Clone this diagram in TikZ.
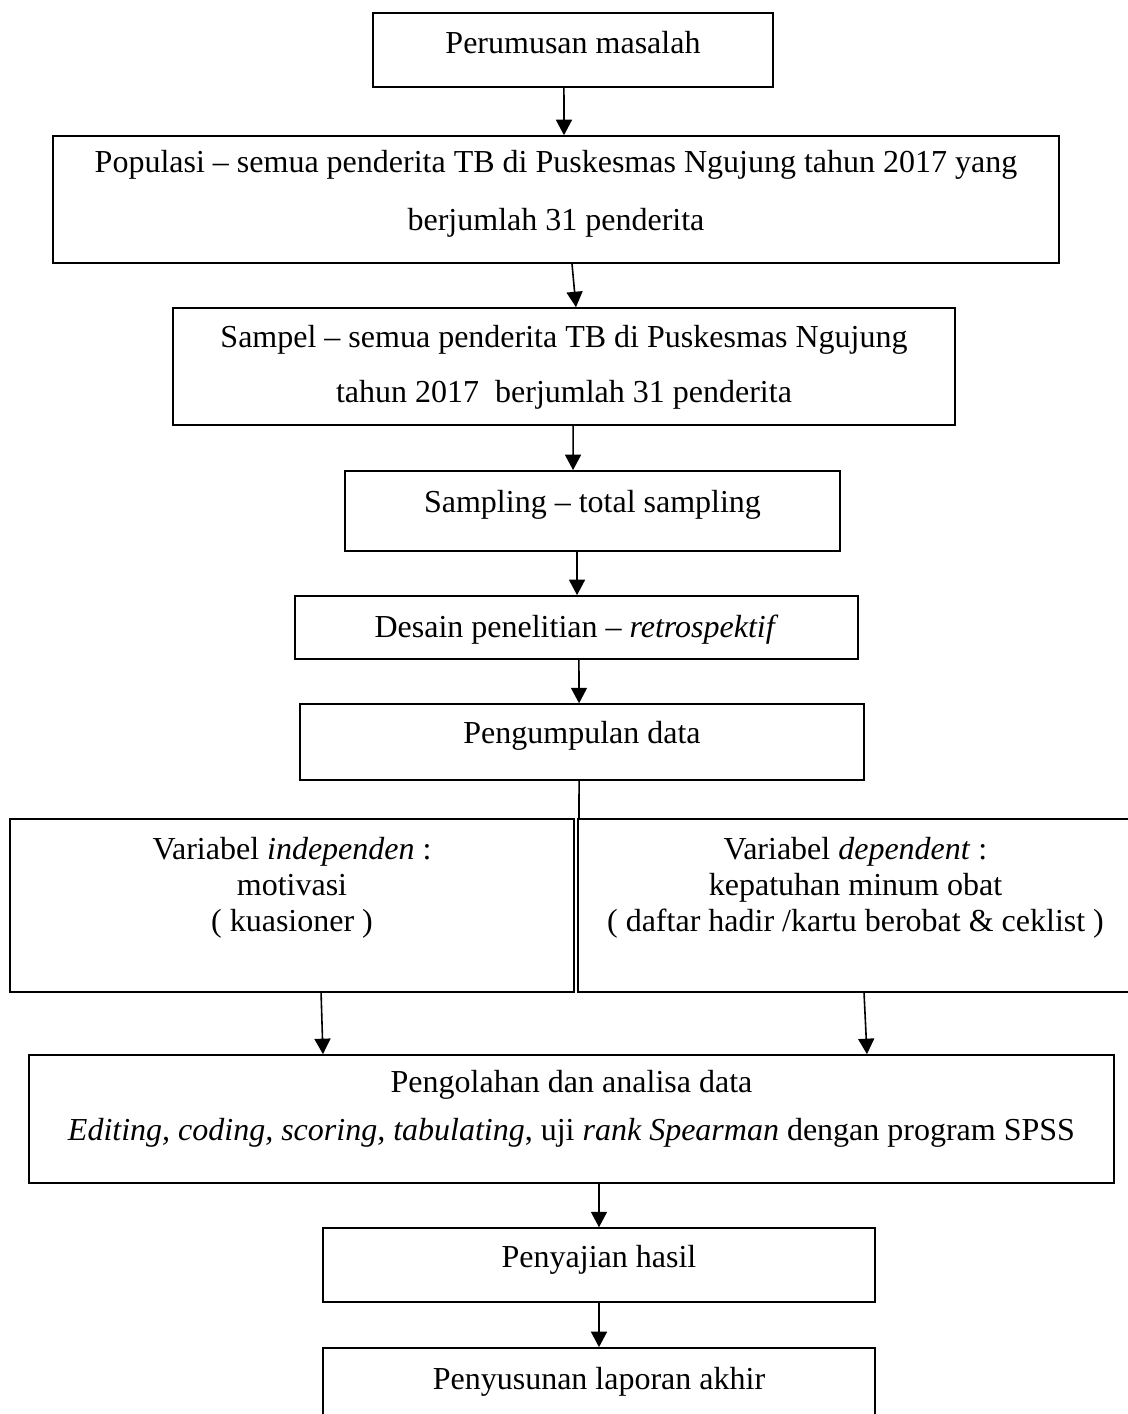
\documentclass[tikz,border=0pt]{standalone}
\usepackage{fontspec}
\setmainfont{Liberation Serif}
\usepackage{tikz}
\usetikzlibrary{arrows.meta, calc, positioning}
\tikzset{
  fcbox/.style={rectangle, draw, line width=0.6pt, inner sep=0pt, anchor=base, align=center,
    font=\fontsize{12}{13.8}\selectfont},
  fcvar/.style={fcbox, font=\fontsize{12}{13.5}\selectfont},
  fcarrow/.style={-{Triangle[length=5.8pt, width=6pt]}, line width=0.6pt},
  fcline/.style={line width=0.6pt},
}
\begin{document}
\begin{tikzpicture}[x=0.375pt, y=-0.375pt]
  \useasboundingbox (0,0) rectangle (1127,1414);

  % Main chain (positions in px, at the baseline of the last text line).
  \node[fcbox, minimum width=150pt, text height=15pt, text depth=12.75pt] (perumusan) at (573,53) {Perumusan masalah};
  \node[fcbox, minimum width=377.25pt, text height=35.25pt, text depth=12.4pt] (populasi) at (556,230)
    {Populasi -- semua penderita TB di Puskesmas Ngujung tahun 2017 yang\\[7.6pt] berjumlah 31 penderita};
  \node[fcbox, minimum width=293.25pt, text height=35.25pt, text depth=8.6pt] (sampel) at (564,402)
    {Sampel -- semua penderita TB di Puskesmas Ngujung\\[6.8pt] tahun 2017\ \ berjumlah 31 penderita};
  \node[fcbox, minimum width=185.6pt, text height=15.4pt, text depth=14.6pt] (sampling) at (592.5,512) {Sampling -- total sampling};
  \node[fcbox, minimum width=211.1pt, text height=15.4pt, text depth=8.25pt] (desain) at (576.5,637) {Desain penelitian -- \textit{retrospektif}};
  \node[fcbox, minimum width=211.5pt, text height=14.6pt, text depth=13.9pt] (kumpul) at (582,743) {Pengumpulan data};

  % The two variables side by side.
  \node[fcvar, minimum width=211.5pt, text height=42pt, text depth=22.9pt] (varind) at (292,931)
    {Variabel \textit{independen} :\\ motivasi\\ ( kuasioner )};
  \node[fcvar, minimum width=208.1pt, text height=42pt, text depth=22.9pt] (vardep) at (855.5,931)
    {Variabel \textit{dependent} :\\ kepatuhan minum obat\\ ( daftar hadir /kartu berobat \& ceklist )};
  \coordinate (split) at (579,819);

  % Analysis and report.
  \node[fcbox, minimum width=406.9pt, text height=31.9pt, text depth=16.1pt] (olah) at (571.5,1140)
    {Pengolahan dan analisa data\\[4.2pt] \textit{Editing, coding, scoring, tabulating}, uji \textit{rank Spearman} dengan program SPSS};
  \node[fcbox, minimum width=207pt, text height=14.6pt, text depth=13.1pt] (saji) at (599,1267) {Penyajian hasil};
  \node[fcbox, minimum width=207pt, text height=15.4pt, text depth=13.5pt] (susun) at (599,1389) {Penyusunan laporan akhir};

  % Edges.
  \draw[fcarrow] ([xshift=-3.4pt]perumusan.south) -- ([xshift=3pt]populasi.north);
  \draw[fcarrow] ([xshift=6pt]populasi.south) -- ([xshift=4.5pt]sampel.north);
  \draw[fcarrow] ([xshift=3.4pt]sampel.south) -- ([xshift=-7.3pt]sampling.north);
  \draw[fcarrow] ([xshift=-5.8pt]sampling.south) -- ([xshift=0.2pt]desain.north);
  \draw[fcarrow] ([xshift=0.9pt]desain.south) -- ([xshift=-1.1pt]kumpul.north);
  \draw[fcline] ([xshift=-1.1pt]kumpul.south) -- (split);
  \draw[fcarrow] ([xshift=10.9pt]varind.south) -- ([xshift=-93.2pt]olah.north);
  \draw[fcarrow] ([xshift=3.2pt]vardep.south) -- ([xshift=110.8pt]olah.north);
  \draw[fcarrow] ([xshift=10.3pt]olah.south) -- (saji.north);
  \draw[fcarrow] (saji.south) -- (susun.north);
\end{tikzpicture}
\end{document}
